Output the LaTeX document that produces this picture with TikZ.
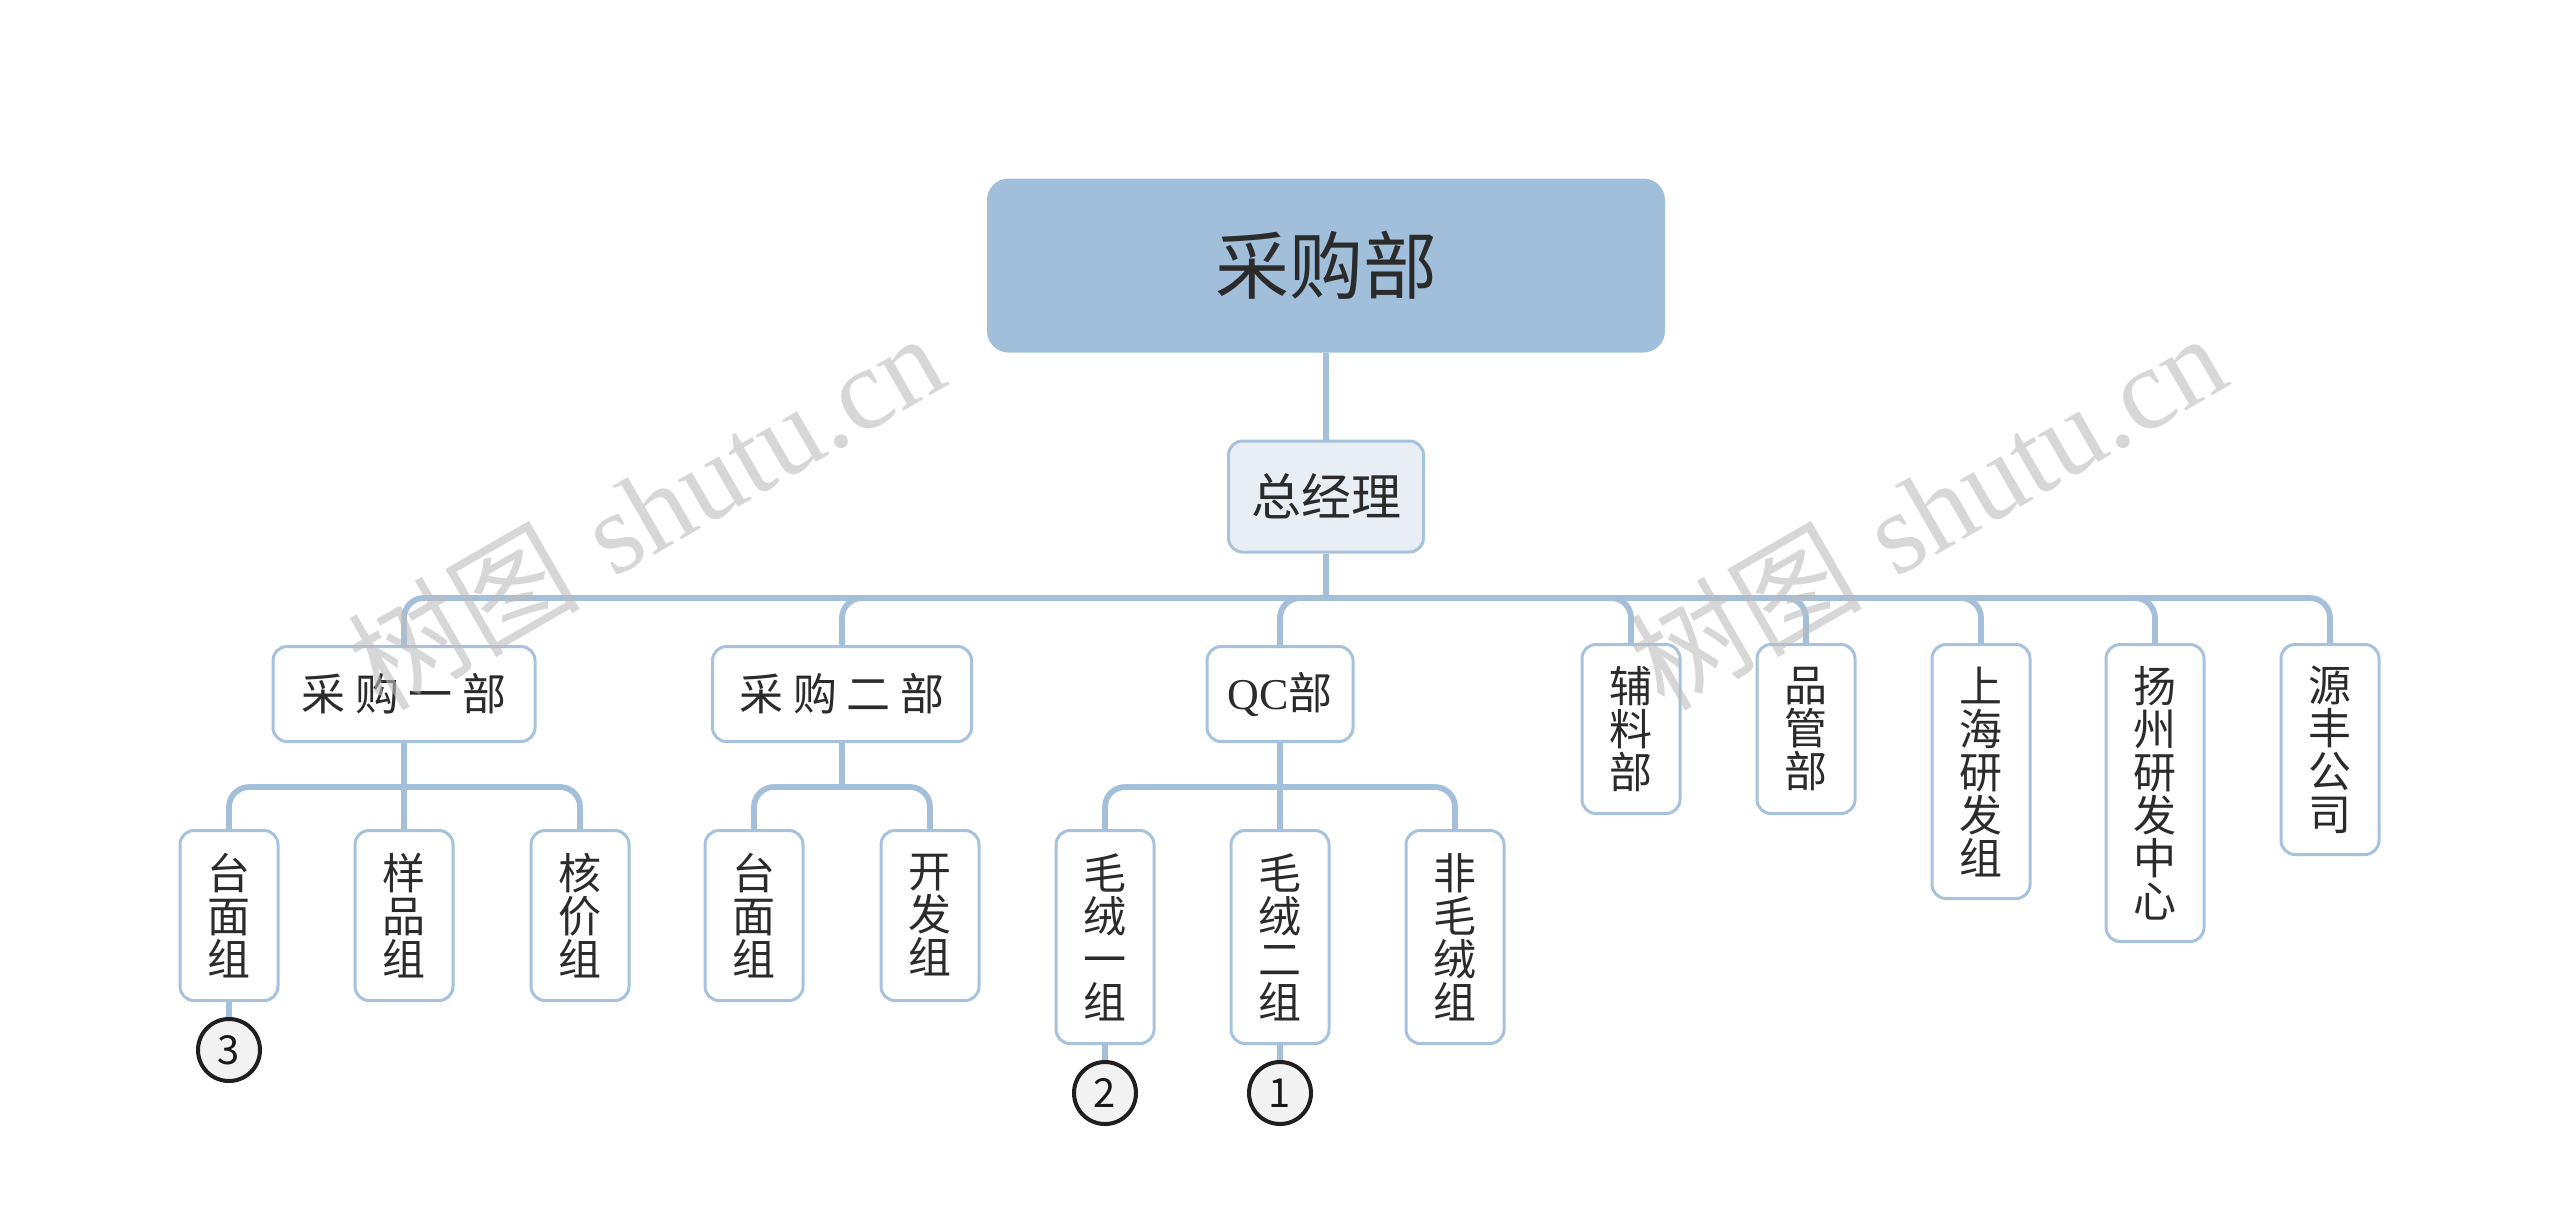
\documentclass[tikz,border=0pt]{standalone}
\usepackage{fontspec}
\newfontfamily\cjk{Noto Sans CJK SC}
\newfontfamily\qcfont{Liberation Serif}
\definecolor{lineblue}{HTML}{A3BFD9}
\definecolor{boxblue}{HTML}{A7C2DC}
\definecolor{rootblue}{HTML}{A1BFDA}
\definecolor{gmfill}{HTML}{E8EEF4}
\definecolor{txt}{HTML}{2B2B2B}
\definecolor{circfill}{HTML}{F2F2F2}
\definecolor{wm}{HTML}{BDBDBD}
\begin{document}
\begin{tikzpicture}[x=0.5pt,y=-0.5pt,
 conn/.style={draw=lineblue, line width=2.9pt, rounded corners=10pt},
 base/.style={draw=boxblue, line width=1.5pt, rounded corners=7pt, fill=white, text=txt, inner sep=0pt},
 hbox/.style={base, minimum height=47.5pt, anchor=north, font=\cjk\fontsize{22}{26}\selectfont},
 vbox/.style={base, minimum width=49pt, align=center, anchor=north, font=\cjk\fontsize{21.5}{21.5}\selectfont},
 numc/.style={circle, draw=black!88, line width=2pt, fill=circfill, minimum size=31pt, inner sep=0pt, font=\cjk\fontsize{20}{20}\selectfont, text=black!90},
 wmark/.style={rotate=30, text=wm, opacity=0.6, font=\fontsize{58}{58}\selectfont}
]
\useasboundingbox (0,0) rectangle (2560,1223);
% junction points
\coordinate (busM) at (1326,598);
\coordinate (bus1) at (404,787);
\coordinate (bus2) at (842,787);
\coordinate (bus3) at (1280,787);

% nodes
\node[base, fill=rootblue, draw=rootblue, rounded corners=10pt, minimum width=337.5pt, minimum height=85.5pt, font=\cjk\fontsize{37}{40}\selectfont] (root) at (1326,265.5) {采购部};
\node[base, fill=gmfill, minimum width=97.5pt, minimum height=55.5pt, font=\cjk\fontsize{25}{28}\selectfont] (gm) at (1326,496.5) {总经理};

\node[hbox, minimum width=131pt] (d1) at (404,645) {采 购 一 部};
\node[hbox, minimum width=129.5pt] (d2) at (842,645) {采 购 二 部};
\node[hbox, minimum width=73pt] (d3) at (1280,645) {{\qcfont QC}部};
\node[vbox, minimum height=84.5pt] (d4) at (1631,643) {辅\\料\\部};
\node[vbox, minimum height=84.5pt] (d5) at (1806,643) {品\\管\\部};
\node[vbox, minimum height=127pt] (d6) at (1981,643) {上\\海\\研\\发\\组};
\node[vbox, minimum height=148.5pt] (d7) at (2155,643) {扬\\州\\研\\发\\中\\心};
\node[vbox, minimum height=105pt] (d8) at (2330,643) {源\\丰\\公\\司};

\node[vbox, minimum height=85pt] (a1) at (229,829) {台\\面\\组};
\node[vbox, minimum height=85pt] (a2) at (404,829) {样\\品\\组};
\node[vbox, minimum height=85pt] (a3) at (580,829) {核\\价\\组};
\node[vbox, minimum height=85pt] (b1) at (754,829) {台\\面\\组};
\node[vbox, minimum height=85pt] (b2) at (930,829) {开\\发\\组};
\node[vbox, minimum height=106.5pt] (q1) at (1105,829) {毛\\绒\\一\\组};
\node[vbox, minimum height=106.5pt] (q2) at (1280,829) {毛\\绒\\二\\组};
\node[vbox, minimum height=106.5pt] (q3) at (1455,829) {非\\毛\\绒\\组};

\node[numc] (c3) at (229,1050) {3};
\node[numc] (c2) at (1105,1093) {2};
\node[numc] (c1) at (1280,1093) {1};

% connectors
\draw[conn] (root.south) -- (gm.north);
\draw[conn] (gm.south) -- (busM);
\foreach \c in {d1,d2,d3,d4,d5,d6,d7,d8} \draw[conn] (busM) -| (\c.north);
\draw[conn] (d1.south) -- (a2.north);
\foreach \c in {a1,a3} \draw[conn] (bus1) -| (\c.north);
\draw[conn] (d2.south) -- (bus2);
\foreach \c in {b1,b2} \draw[conn] (bus2) -| (\c.north);
\draw[conn] (d3.south) -- (q2.north);
\foreach \c in {q1,q3} \draw[conn] (bus3) -| (\c.north);
\draw[conn] (a1.south) -- (c3.north);
\draw[conn] (q1.south) -- (c2.north);
\draw[conn] (q2.south) -- (c1.north);

% watermarks
\node[wmark] (w1) at (645,510) {{\cjk 树图} {\qcfont shutu.cn}};
\node[wmark] (w2) at (1927,510) {{\cjk 树图} {\qcfont shutu.cn}};
\end{tikzpicture}
\end{document}
